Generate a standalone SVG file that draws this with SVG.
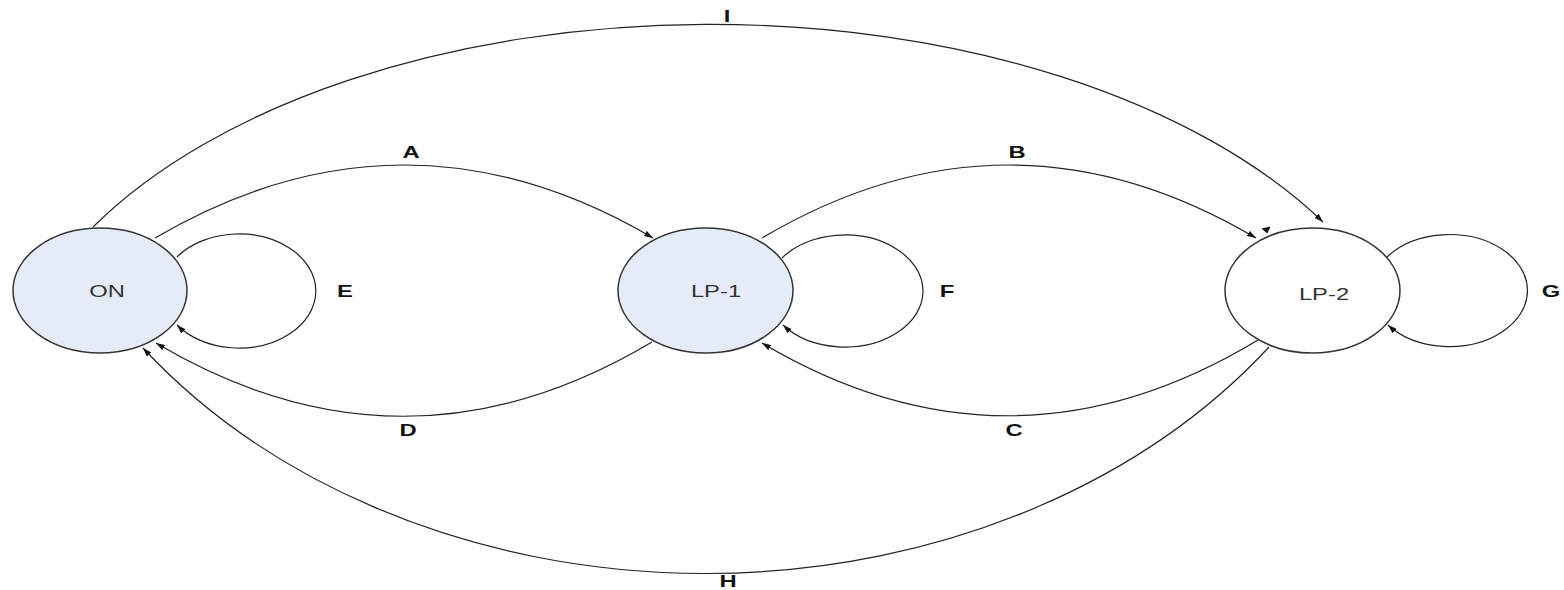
<svg xmlns="http://www.w3.org/2000/svg" width="1564" height="590" viewBox="0 0 1564 590">
  <style>
    .node { stroke: #333; stroke-width: 1.5; }
    .blue { fill: #E6ECF7; }
    .white { fill: #FFFFFF; }
    .edge { fill: none; stroke: #222; stroke-width: 1.2; marker-end: url(#arr); }
    .nl { font-family: "Liberation Sans", Arial, sans-serif; font-size: 17px; fill: #333; text-anchor: middle; }
    .el { font-family: "Liberation Sans", Arial, sans-serif; font-size: 17px; font-weight: bold; fill: #111; text-anchor: middle; }
  </style>
  <defs>
    <marker id="arr" viewBox="0 0 9 6" refX="9" refY="3" markerWidth="9" markerHeight="6" markerUnits="userSpaceOnUse" orient="auto">
      <path d="M0,0 L9,3 L0,6 z" fill="#111"/>
    </marker>
  </defs>
  <rect width="1564" height="590" fill="#FFFFFF"/>

  <g id="connectors">
    <!-- I: ON -> LP-2 -->
    <path class="edge" d="M93,227 A710,400 0 0 1 1323,222"/>
    <!-- A: ON -> LP-1 -->
    <path class="edge" d="M155,238 Q404,92 653,238"/>
    <!-- B: LP-1 -> LP-2 -->
    <path class="edge" d="M762,238 Q1009,92 1256,238"/>
    <!-- D: LP-1 -> ON -->
    <path class="edge" d="M652,342 Q404,490 156,343"/>
    <!-- C: LP-2 -> LP-1 -->
    <path class="edge" d="M1258,340 Q1010,490 762,343"/>
    <!-- H: LP-2 -> ON -->
    <path class="edge" d="M1269,347 A700,557 0 0 1 143,348"/>
    <!-- E, F, G self loops -->
    <path class="edge" d="M177,257 A77,57 0 1 1 177,325"/>
    <path class="edge" d="M782,258 A78,56 0 1 1 783,325"/>
    <path class="edge" d="M1387,257 A78,56 0 1 1 1388,325"/>
    <!-- stray arrowhead near LP-2 -->
    <polygon points="1261.5,228.5 1270.5,226.5 1267.3,233.5" fill="#111"/>
    <!-- edge labels -->
    <text class="el" transform="translate(727,22) scale(1.4,1)">I</text>
    <text class="el" transform="translate(411,158) scale(1.4,1)">A</text>
    <text class="el" transform="translate(1017,158) scale(1.4,1)">B</text>
    <text class="el" transform="translate(1014,436) scale(1.4,1)">C</text>
    <text class="el" transform="translate(408,436) scale(1.4,1)">D</text>
    <text class="el" transform="translate(345,297) scale(1.4,1)">E</text>
    <text class="el" transform="translate(947,297) scale(1.4,1)">F</text>
    <text class="el" transform="translate(1551,297) scale(1.4,1)">G</text>
    <text class="el" transform="translate(728,587) scale(1.4,1)">H</text>
  </g>

  <g id="node-ON">
    <ellipse class="node blue" cx="100" cy="290.5" rx="87" ry="62.5"/>
    <text class="nl" transform="translate(107,297) scale(1.4,1)">ON</text>
  </g>
  <g id="node-LP1">
    <ellipse class="node blue" cx="705.5" cy="290.5" rx="87.5" ry="62.5"/>
    <text class="nl" transform="translate(716,297) scale(1.4,1)">LP-1</text>
  </g>
  <g id="node-LP2">
    <ellipse class="node white" cx="1312.5" cy="290.5" rx="87.5" ry="62.5"/>
    <text class="nl" transform="translate(1324,300) scale(1.4,1)">LP-2</text>
  </g>
</svg>
